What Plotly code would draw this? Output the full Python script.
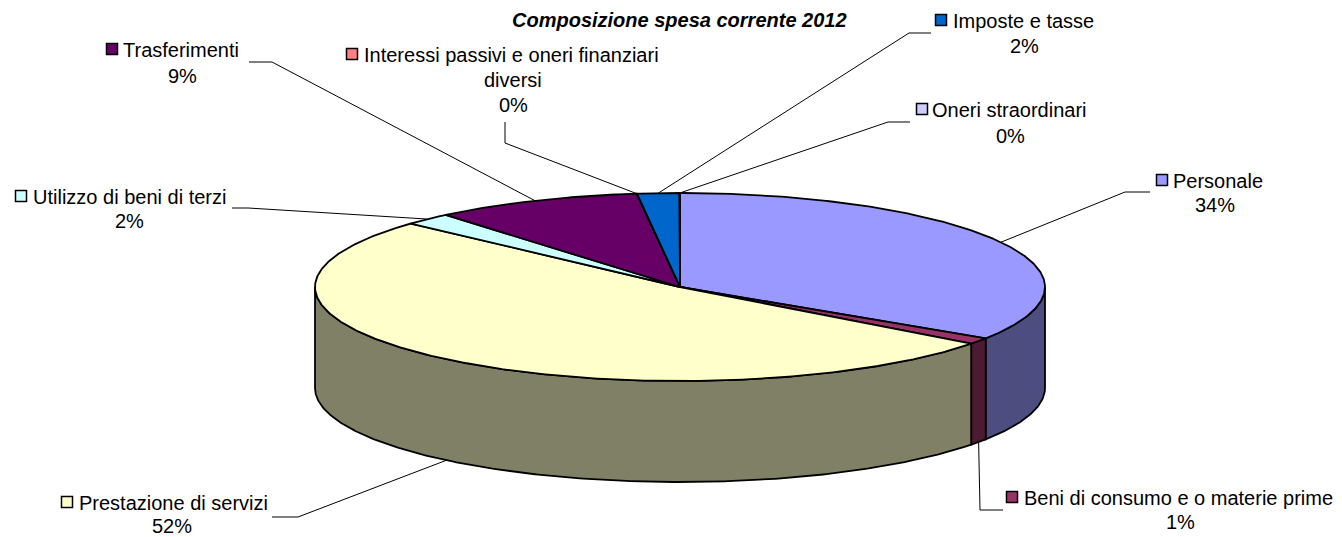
import math
import plotly.graph_objects as go

# ---- data ----
categories = ["Personale", "Beni di consumo e o materie prime", "Prestazione di servizi",
              "Utilizzo di beni di terzi", "Trasferimenti",
              "Interessi passivi e oneri finanziari", "Imposte e tasse", "Oneri straordinari"]
values = [34.2, 1.1, 51.5, 2.1, 9.2, 0.02, 1.86, 0.02]
top_colors = ["#9999FF", "#993366", "#FFFFCC", "#CCFFFF", "#660066", "#FF8080", "#0066CC", "#CCCCFF"]
side_colors = ["#4D4D80", "#4D1A33", "#808066", "#668080", "#330033", "#804040", "#003366", "#666680"]
title_text = "Composizione spesa corrente 2012"

# ---- layout of the drawing (pixel space of the page) ----
CX, CY, RX, RY, DEPTH = 680, 287, 365, 94, 101
FONT = "Liberation Sans, Arial, sans-serif"
FS = 20
LW = 1.8

# category index -> key x, key y, text x, percent x, percent y, elbow points
label_layout = {
    0: dict(kx=1162, ky=180, tx=1172, px=1215, py=205, elbow=[(1125, 192), (1150, 192)]),
    1: dict(kx=1012, ky=497, tx=1023, px=1180, py=522, elbow=[(980, 510), (1003, 510)], rim="bottom"),
    2: dict(kx=67, ky=502, tx=78, px=172, py=525.5, elbow=[(298, 517), (272, 517)], rim="bottom"),
    3: dict(kx=21, ky=196, tx=32, px=129, py=221, elbow=[(248, 208), (232, 208)]),
    4: dict(kx=112, ky=49, tx=122, px=182, py=76, elbow=[(272, 62), (249, 62)]),
    5: dict(kx=352, ky=54, tx=363, px=513, py=105, elbow=[(505, 143), (505, 122)], extra=("diversi", 513, 80)),
    6: dict(kx=941, ky=20, tx=952, px=1024, py=46, elbow=[(909, 33), (931, 33)]),
    7: dict(kx=922, ky=109, tx=931, px=1010, py=136, elbow=[(888, 122), (910, 122)]),
}


def rim(t, drop=0.0):
    return CX + RX * math.sin(t), CY - RY * math.cos(t) + drop


def arc(a, b, drop=0.0):
    n = max(2, int(abs(b - a) / 0.01))
    pts = [rim(a + (b - a) * i / n, drop) for i in range(n + 1)]
    return [p[0] for p in pts], [p[1] for p in pts]


total = sum(values)
edges = [0.0]
for v in values:
    edges.append(edges[-1] + v / total * 2 * math.pi)

fig = go.Figure()

# side walls (only the front half of the rim is visible)
for i in range(len(values)):
    a = max(edges[i], math.pi / 2)
    b = min(edges[i + 1], 3 * math.pi / 2)
    if b <= a:
        continue
    xt, yt = arc(a, b)
    xb, yb = arc(b, a, DEPTH)
    fig.add_trace(go.Scatter(x=xt + xb + xt[:1], y=yt + yb + yt[:1], mode="lines", fill="toself",
                             fillcolor=side_colors[i], line=dict(color="black", width=LW)))

# top face
for i in range(len(values)):
    xa, ya = arc(edges[i], edges[i + 1])
    fig.add_trace(go.Scatter(x=[CX] + xa + [CX], y=[CY] + ya + [CY], mode="lines", fill="toself",
                             fillcolor=top_colors[i], line=dict(color="black", width=LW)))

# leader lines and legend keys
annotations = []
for i, cat in enumerate(categories):
    p = label_layout[i]
    mid = (edges[i] + edges[i + 1]) / 2
    sx, sy = rim(mid, DEPTH if p.get("rim") == "bottom" else 0)
    fig.add_trace(go.Scatter(x=[sx] + [e[0] for e in p["elbow"]], y=[sy] + [e[1] for e in p["elbow"]],
                             mode="lines", line=dict(color="black", width=1)))
    fig.add_trace(go.Scatter(x=[p["kx"]], y=[p["ky"]], mode="markers",
                             marker=dict(symbol="square", size=11, color=top_colors[i],
                                         line=dict(color="black", width=1.5))))
    annotations.append(dict(x=p["tx"], y=p["ky"] + 1, text=cat, xanchor="left", yanchor="middle"))
    annotations.append(dict(x=p["px"], y=p["py"], text=f"{round(values[i])}%", xanchor="center", yanchor="middle"))
    if "extra" in p:
        annotations.append(dict(x=p["extra"][1], y=p["extra"][2], text=p["extra"][0],
                                xanchor="center", yanchor="middle"))

for a in annotations:
    a.update(xref="x", yref="y", showarrow=False, borderpad=0, font=dict(family=FONT, size=FS, color="black"))
annotations.append(dict(x=679, y=20, xref="x", yref="y", showarrow=False, xanchor="center", yanchor="middle",
                        text=f"<b><i>{title_text}</i></b>", font=dict(family=FONT, size=20, color="black")))

fig.update_layout(
    width=1342, height=537, margin=dict(l=0, r=0, t=0, b=0),
    paper_bgcolor="white", plot_bgcolor="white", showlegend=False, hovermode=False,
    xaxis=dict(range=[0, 1342], visible=False, fixedrange=True),
    yaxis=dict(range=[537, 0], visible=False, fixedrange=True),
    annotations=annotations,
)
fig.write_html("out.html", config={"displayModeBar": False},
               post_script="document.body.style.margin='0';document.documentElement.style.overflow='hidden';")
